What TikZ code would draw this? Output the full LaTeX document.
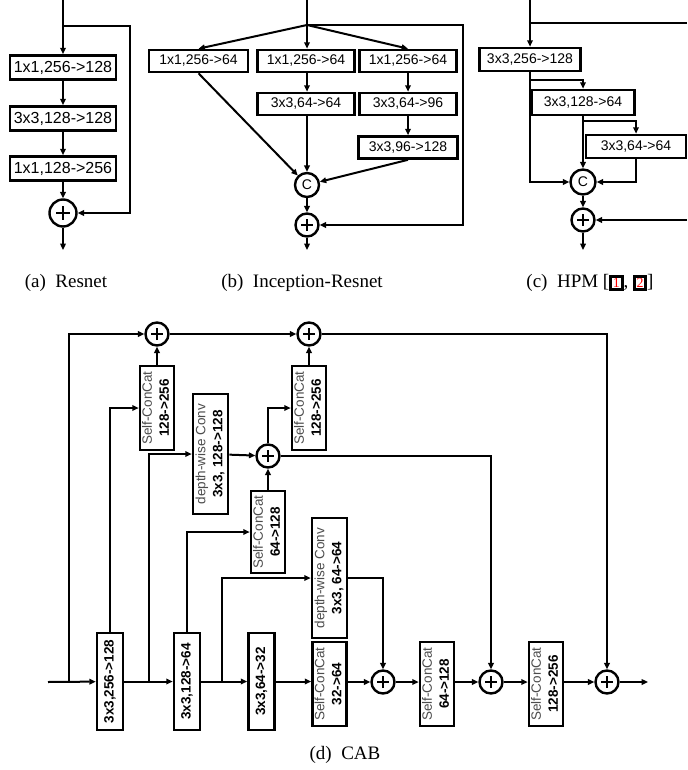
\documentclass[tikz,border=0pt]{standalone}
\usepackage{fontspec}
\setmainfont{Liberation Serif}
\setsansfont{Liberation Sans}
\usepackage{graphicx}
\usepackage{tikz}
\usetikzlibrary{arrows.meta, positioning}

% rotated box labels
\newcommand{\vlabel}[2]{\rotatebox{90}{\begin{tabular}{@{}c@{}}\textcolor{black!70}{#1}\\\textbf{#2}\end{tabular}}}
\newcommand{\vsingle}[1]{\rotatebox{90}{\textbf{#1}}}
\newcommand{\refbox}[1]{{\setlength{\fboxsep}{0.3pt}\setlength{\fboxrule}{1.5pt}\fbox{\textcolor{red}{\scriptsize #1}}}}

\begin{document}
\begin{tikzpicture}[
    x=0.5pt, y=-0.5pt,
    every node/.style={font=\sffamily\fontsize{7}{8.4}\selectfont},
    box/.style={rectangle, draw, line width=1.3pt, inner sep=0pt, text centered},
    convA/.style={box, minimum width=53pt, minimum height=12pt, font=\sffamily\fontsize{8}{9.6}\selectfont},
    conv/.style={box, minimum width=49.5pt, minimum height=11pt},
    cab/.style={box, font=\sffamily\fontsize{6.75}{8.4}\selectfont},
    vconv/.style={cab, minimum width=13pt, minimum height=48.5pt},
    catbox/.style={cab, minimum width=17pt, minimum height=42pt},
    dwbox/.style={cab, minimum width=17.5pt, minimum height=60pt},
    op/.style={circle, draw, line width=1.2pt, inner sep=0pt, minimum size=11.5pt},
    plusop/.style={op, path picture={\draw[line width=1pt] (path picture bounding box.center) +(-#1,0) -- +(#1,0) +(0,-#1) -- +(0,#1);}},
    plusop/.default=3pt,
    catop/.style={op, font=\sffamily\fontsize{7}{8}\selectfont},
    arr/.style={-{Triangle[length=3.2pt,width=2.8pt]}, line width=1pt},
    ln/.style={line width=1pt},
    caption/.style={font=\rmfamily\fontsize{9.5}{11}\selectfont}
]
    \useasboundingbox (0,0) rectangle (687,770);

    % (a) Resnet
    \node[convA] (resA) at (63,67.5) {1x1,256->128};
    \node[convA] (resB) at (63,118.5) {3x3,128->128};
    \node[convA] (resC) at (63,168.5) {1x1,128->256};
    \node[plusop=3.5pt, minimum size=13.5pt] (resAdd) at (63,213) {};
    \coordinate (resIn) at (63,0);
    \coordinate (resSplit) at (63,26);
    \coordinate (resOut) at (63,250);
    \draw[arr] (resIn) -- (resA);
    \draw[arr] (resA) -- (resB);
    \draw[arr] (resB) -- (resC);
    \draw[arr] (resC) -- (resAdd);
    \draw[arr] (resSplit) -- ++(67,0) |- (resAdd);
    \draw[arr] (resAdd) -- (resOut);

    % (b) Inception-Resnet
    \node[conv] (incA) at (198.5,61) {1x1,256->64};
    \node[conv, minimum width=48.5pt] (incB) at (306,61) {1x1,256->64};
    \node[conv, minimum width=48.5pt] (incC) at (408,61) {1x1,256->64};
    \node[conv, minimum width=48.5pt] (incD) at (306,104) {3x3,64->64};
    \node[conv, minimum width=48.5pt] (incE) at (408,104) {3x3,64->96};
    \node[conv] (incF) at (408,147.5) {3x3,96->128};
    \node[catop, minimum size=12pt] (incCat) at (307,185) {C};
    \node[plusop] (incAdd) at (307,225) {};
    \coordinate (incIn) at (307,0);
    \coordinate (incSplit) at (307,25);
    \coordinate (incOut) at (307,250);
    \draw[ln] (incIn) -- (incSplit);
    \draw[arr] (incSplit) -- (incA.north);
    \draw[arr] (incSplit) -- (incSplit |- incB.north);
    \draw[arr] (incSplit) -- (incC.north);
    \draw[arr] (incSplit) -- ++(156,0) |- (incAdd);
    \draw[arr] (incA.south) -- (incCat);
    \draw[arr] (incSplit |- incB.south) -- (incSplit |- incD.north);
    \draw[arr] (incSplit |- incD.south) -- (incCat);
    \draw[arr] (incC) -- (incE);
    \draw[arr] (incE) -- (incF);
    \draw[arr] (incF.south) -- (incCat);
    \draw[arr] (incCat) -- (incAdd);
    \draw[arr] (incAdd) -- (incOut);

    % (c) HPM
    \node[conv, minimum width=50.5pt, minimum height=11.5pt] (hpmA) at (530,59.5) {3x3,256->128};
    \node[conv, minimum width=51.5pt, minimum height=12.5pt] (hpmB) at (583,102.5) {3x3,128->64};
    \node[conv, minimum width=50pt, minimum height=11.5pt] (hpmC) at (636,146.5) {3x3,64->64};
    \node[catop, minimum size=12.5pt] (hpmCat) at (583,182) {C};
    \node[plusop] (hpmAdd) at (583,220) {};
    \coordinate (hpmIn) at (530,0);
    \coordinate (hpmSplit) at (530,23);
    \coordinate (hpmSkipA) at (687,23);
    \coordinate (hpmSkipB) at (687,220);
    \coordinate (hpmS1) at (530,80);
    \coordinate (hpmS2) at (583,121);
    \coordinate (hpmOut) at (583,250);
    \draw[arr] (hpmIn) -- (hpmA);
    \draw[ln] (hpmSplit) -- (hpmSkipA);
    \draw[arr] (hpmSkipB) -- (hpmAdd);
    \draw[arr] (hpmA.south) |- (hpmCat);
    \draw[arr] (hpmS1) -| (hpmB.north);
    \draw[arr] (hpmB) -- (hpmCat);
    \draw[arr] (hpmS2) -| (hpmC.north);
    \draw[arr] (hpmC.south) |- (hpmCat);
    \draw[arr] (hpmCat) -- (hpmAdd);
    \draw[arr] (hpmAdd) -- (hpmOut);

    % captions
    \node[caption] (capA) at (66,283) {(a)\hspace{0.5em}Resnet};
    \node[caption] (capB) at (302,283) {(b)\hspace{0.5em}Inception-Resnet};
    \node[caption] (capC) at (590,283) {(c)\hspace{0.5em}HPM [\refbox{1}, \refbox{2}]};

    % (d) CAB: main row
    \node[vconv] (cabA) at (110,681.5) {\vsingle{3x3,256->128}};
    \node[vconv] (cabB) at (187,681.5) {\vsingle{3x3,128->64}};
    \node[vconv] (cabC) at (261.5,681.5) {\vsingle{3x3,64->32}};
    \node[catbox] (catA) at (329.5,684) {\vlabel{Self-ConCat}{32->64}};
    \node[plusop] (addA) at (383,682) {};
    \node[catbox] (catB) at (437,684) {\vlabel{Self-ConCat}{64->128}};
    \node[plusop] (addB) at (491,682) {};
    \node[catbox] (catC) at (546,684) {\vlabel{Self-ConCat}{128->256}};
    \node[plusop] (addC) at (607,682) {};

    % (d) CAB: upper branches
    \node[dwbox] (dwB) at (329.5,578) {\vlabel{depth-wise Conv}{3x3, 64->64}};
    \node[catbox, minimum height=41pt] (catM) at (268,532) {\vlabel{Self-ConCat}{64->128}};
    \node[dwbox] (dwA) at (210.5,454) {\vlabel{depth-wise Conv}{3x3, 128->128}};
    \node[plusop] (addM) at (268,456) {};
    \node[catbox] (catTA) at (157,408) {\vlabel{Self-ConCat}{128->256}};
    \node[catbox] (catTB) at (309,408) {\vlabel{Self-ConCat}{128->256}};
    \node[plusop] (addTA) at (157,334) {};
    \node[plusop] (addTB) at (309,334) {};

    \coordinate (cabIn) at (48,682);
    \coordinate (cabS0) at (69,682);
    \coordinate (cabS1) at (149,682);
    \coordinate (cabS2) at (222,682);
    \coordinate (cabOut) at (648,682);

    % main path
    \draw[arr] (cabIn) -- (cabA);
    \draw[arr] (cabA) -- (cabB);
    \draw[arr] (cabB) -- (cabC);
    \draw[arr] (cabC) -- (catA.west |- cabC);
    \draw[arr] (catA.east |- addA) -- (addA);
    \draw[arr] (addA) -- (catB.west |- addA);
    \draw[arr] (catB.east |- addB) -- (addB);
    \draw[arr] (addB) -- (catC.west |- addB);
    \draw[arr] (catC.east |- addC) -- (addC);
    \draw[arr] (addC) -- (cabOut);

    % branches
    \draw[arr] (cabS0) |- (addTA);
    \draw[arr] (cabA.north) |- (catTA.west);
    \draw[arr] (catTA) -- (addTA);
    \draw[arr] (addTA) -- (addTB);
    \draw[arr] (addTB) -| (addC);
    \draw[arr] (cabS1) |- (dwA.west);
    \draw[arr] (dwA) -- (addM);
    \draw[arr] (cabB.north) |- (catM.west);
    \draw[arr] (catM) -- (addM);
    \draw[arr] (addM) |- (catTB.west);
    \draw[arr] (catTB) -- (addTB);
    \draw[arr] (addM) -| (addB);
    \draw[arr] (cabS2) |- (dwB.west);
    \draw[arr] (dwB.east) -| (addA);

    \node[caption] (capD) at (345,755) {(d)\hspace{0.5em}CAB};
\end{tikzpicture}
\end{document}
